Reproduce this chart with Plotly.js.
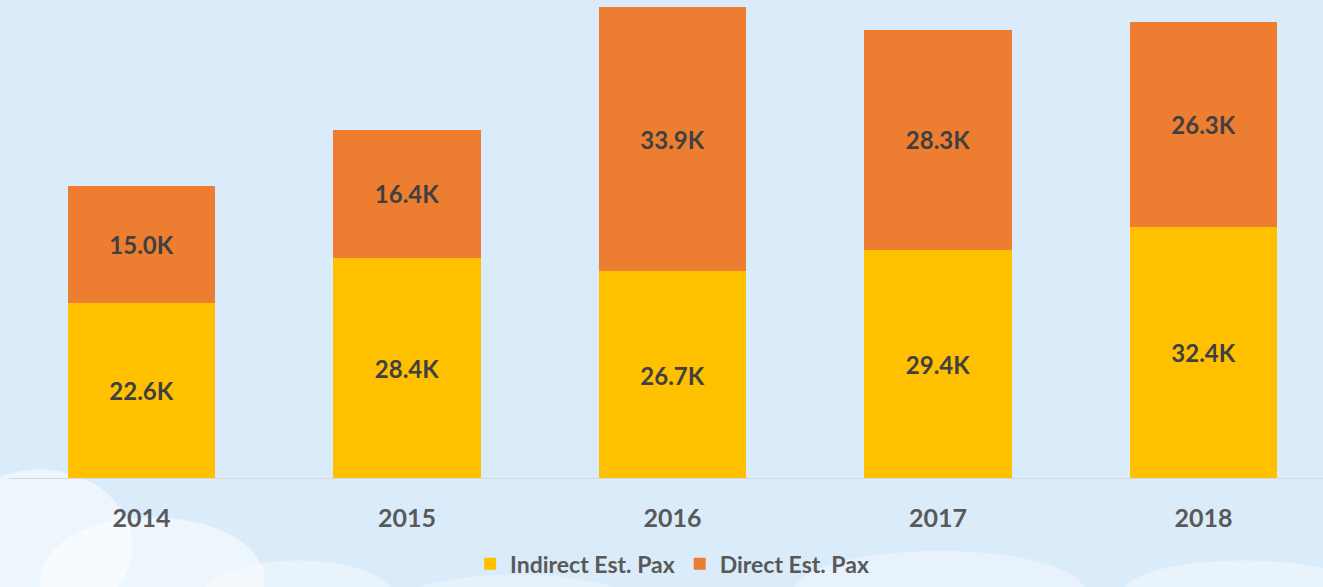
<!DOCTYPE html>
<html>
<head>
<meta charset="utf-8">
<script src="https://cdn.plot.ly/plotly-3.0.1.min.js"></script>
<style>
html,body{margin:0;padding:0;background:#daecfa;}
#chart{width:1323px;height:587px;}
</style>
</head>
<body>
<div id="chart"></div>
<script>
const years = ["2014", "2015", "2016", "2017", "2018"];
const indirectK = [22.6, 28.4, 26.7, 29.4, 32.4];
const directK = [15.0, 16.4, 33.9, 28.3, 26.3];
const seriesNames = ["Indirect Est. Pax", "Direct Est. Pax"];

const labelFont = {family: "Lato, 'Open Sans', sans-serif", size: 24, color: "#404040", weight: 700};

const traces = [
  {
    type: "bar", name: seriesNames[0], x: years, y: indirectK,
    marker: {color: "#ffc000"},
    text: indirectK.map(v => v.toFixed(1) + "K"),
    textposition: "inside", insidetextanchor: "middle",
    textfont: labelFont, hoverinfo: "x+y+name"
  },
  {
    type: "bar", name: seriesNames[1], x: years, y: directK,
    marker: {color: "#ed7d31"},
    text: directK.map(v => v.toFixed(1) + "K"),
    textposition: "inside", insidetextanchor: "middle",
    textfont: labelFont, hoverinfo: "x+y+name"
  }
];

const cloud = (x0, y0, x1, y1, op) => ({
  type: "circle", xref: "paper", yref: "paper", layer: "below",
  x0: x0, y0: y0, x1: x1, y1: y1,
  fillcolor: "rgba(255,255,255," + op + ")", line: {width: 0}
});

const layout = {
  width: 1323, height: 587,
  margin: {l: 0, r: 0, t: 0, b: 108, autoexpand: false},
  paper_bgcolor: "#daecfa",
  plot_bgcolor: "rgba(0,0,0,0)",
  barmode: "stack",
  bargap: 0.446,
  showlegend: true,
  legend: {
    orientation: "h", x: 0.508, xanchor: "center", y: -0.222, yanchor: "bottom",
    font: {family: "Lato, 'Open Sans', sans-serif", size: 23, color: "#595959", weight: 700},
    bgcolor: "rgba(0,0,0,0)", traceorder: "normal"
  },
  xaxis: {
    type: "category",
    range: [-0.533, 4.45],
    showgrid: false, zeroline: false,
    showline: false,
    ticks: "", ticklabelstandoff: 22,
    tickfont: {family: "Lato, 'Open Sans', sans-serif", size: 25, color: "#595959", weight: 700},
    fixedrange: true
  },
  yaxis: {
    range: [0, 61.5],
    visible: false, showgrid: false, zeroline: false, fixedrange: true
  },
  shapes: [
    cloud(-0.04, -0.3, 0.1, 0.02, 0.55),
    cloud(0.03, -0.34, 0.2, -0.08, 0.5),
    cloud(0.15, -0.34, 0.3, -0.17, 0.4),
    cloud(0.3, -0.32, 0.48, -0.2, 0.3),
    cloud(0.6, -0.32, 0.82, -0.15, 0.35),
    cloud(0.85, -0.3, 1.03, -0.17, 0.4),
    {type: "line", xref: "paper", yref: "y", x0: 0.0068, x1: 1, y0: 0, y1: 0,
     line: {color: "#d9d9d9", width: 2}, layer: "above"}
  ]
};

Plotly.newPlot("chart", traces, layout, {displayModeBar: false, staticPlot: true});
</script>
</body>
</html>
